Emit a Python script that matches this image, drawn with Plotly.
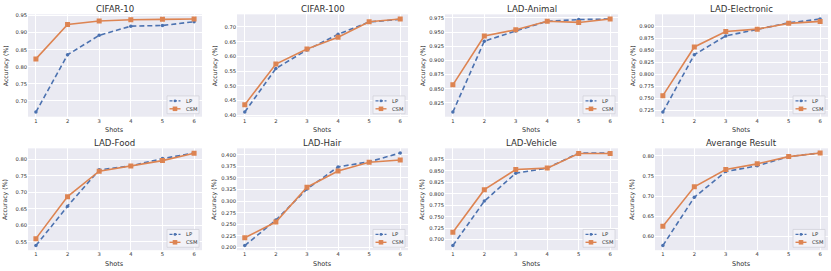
import plotly.graph_objects as go

shots = [1, 2, 3, 4, 5, 6]

titles = ["CIFAR-10", "CIFAR-100", "LAD-Animal", "LAD-Electronic",
          "LAD-Food", "LAD-Hair", "LAD-Vehicle", "Averange Result"]

lp_cifar10 = [0.667, 0.835, 0.892, 0.919, 0.921, 0.932]
csm_cifar10 = [0.823, 0.924, 0.934, 0.938, 0.939, 0.940]
lp_cifar100 = [0.411, 0.559, 0.622, 0.675, 0.717, 0.726]
csm_cifar100 = [0.436, 0.574, 0.625, 0.665, 0.718, 0.727]
lp_animal = [0.809, 0.934, 0.952, 0.969, 0.972, 0.973]
csm_animal = [0.857, 0.943, 0.954, 0.969, 0.967, 0.973]
lp_electronic = [0.722, 0.841, 0.880, 0.894, 0.907, 0.915]
csm_electronic = [0.756, 0.857, 0.889, 0.894, 0.906, 0.910]
lp_food = [0.539, 0.658, 0.768, 0.780, 0.802, 0.819]
csm_food = [0.560, 0.687, 0.764, 0.780, 0.796, 0.818]
lp_hair = [0.204, 0.259, 0.326, 0.374, 0.385, 0.404]
csm_hair = [0.221, 0.255, 0.330, 0.365, 0.384, 0.389]
lp_vehicle = [0.687, 0.784, 0.845, 0.856, 0.889, 0.889]
csm_vehicle = [0.716, 0.809, 0.853, 0.856, 0.888, 0.888]
lp_avg = [0.577, 0.697, 0.761, 0.775, 0.798, 0.807]
csm_avg = [0.625, 0.723, 0.766, 0.780, 0.798, 0.807]

lp_all = [lp_cifar10, lp_cifar100, lp_animal, lp_electronic,
          lp_food, lp_hair, lp_vehicle, lp_avg]
csm_all = [csm_cifar10, csm_cifar100, csm_animal, csm_electronic,
           csm_food, csm_hair, csm_vehicle, csm_avg]

series_names = ["LP", "CSM"]

y_dtick = [0.05, 0.05, 0.025, 0.025, 0.05, 0.025, 0.025, 0.05]
y_fmt = [".2f", ".2f", ".3f", ".3f", ".2f", ".3f", ".3f", ".2f"]

W, H = 831, 271
lefts = [28, 237, 445, 655]
rights = [202, 408, 618, 828]
tops = [12.5, 148]
bottoms = [116, 251]

BLUE = "#4C72B0"
ORANGE = "#DD8452"
FONT = "DejaVu Sans"
TXT = "#303030"


def px(xp):
    return xp / W


def py(yp):
    return 1 - yp / H


fig = go.Figure()
annotations = []
shapes = []
layout = {}

for i in range(8):
    r, c = divmod(i, 4)
    n = i + 1
    xa = "x" if n == 1 else f"x{n}"
    ya = "y" if n == 1 else f"y{n}"
    fig.add_trace(go.Scatter(
        x=shots, y=lp_all[i], name=series_names[0], mode="lines+markers",
        line=dict(color=BLUE, width=1.6, dash="5px,3px"),
        marker=dict(symbol="circle", size=3.5, color=BLUE),
        xaxis=xa, yaxis=ya, showlegend=False))
    fig.add_trace(go.Scatter(
        x=shots, y=csm_all[i], name=series_names[1], mode="lines+markers",
        line=dict(color=ORANGE, width=1.6),
        marker=dict(symbol="square", size=5, color=ORANGE),
        xaxis=xa, yaxis=ya, showlegend=False))

    vals = lp_all[i] + csm_all[i]
    lo, hi = min(vals), max(vals)
    pad = (hi - lo) * 0.05
    L, R, T, B = lefts[c], rights[c], tops[r], bottoms[r]
    kx = "xaxis" if n == 1 else f"xaxis{n}"
    ky = "yaxis" if n == 1 else f"yaxis{n}"
    layout[kx] = dict(domain=[px(L), px(R)], anchor=ya, range=[0.75, 6.25],
                      tickmode="array", tickvals=shots,
                      showgrid=True, gridcolor="white", gridwidth=0.8,
                      zeroline=False, showline=False, ticks="",
                      tickfont=dict(size=5.2, color=TXT), fixedrange=True)
    layout[ky] = dict(domain=[py(B), py(T)], anchor=xa, range=[lo - pad, hi + pad],
                      dtick=y_dtick[i], tick0=0, tickformat=y_fmt[i],
                      showgrid=True, gridcolor="white", gridwidth=0.8,
                      zeroline=False, showline=False, ticks="",
                      tickfont=dict(size=5.2, color=TXT), fixedrange=True)

    # legend box (bottom right, inside the plot area)
    lx0, lx1 = R - 35, R - 3
    ly0, ly1 = B - 21, B - 3
    shapes.append(dict(type="rect", xref="paper", yref="paper",
                       x0=px(lx0), x1=px(lx1), y0=py(ly1), y1=py(ly0),
                       fillcolor="rgba(243,243,248,0.9)",
                       line=dict(color="#D3D3DB", width=0.8), layer="above"))
    rows = [(ly0 + 5, BLUE, "dash", "circle", series_names[0]),
            (ly0 + 13, ORANGE, "solid", "square", series_names[1])]
    for yy, col, dash, sym, name in rows:
        sx0, sx1 = lx0 + 2.5, lx0 + 13.5
        shapes.append(dict(type="line", xref="paper", yref="paper",
                           x0=px(sx0), x1=px(sx1), y0=py(yy), y1=py(yy),
                           line=dict(color=col, width=1.4,
                                     dash="3px,1.5px" if dash == "dash" else "solid"),
                           layer="above"))
        cx = (sx0 + sx1) / 2
        s = 1.4 if sym == "circle" else 2.3
        shapes.append(dict(type="circle" if sym == "circle" else "rect",
                           xref="paper", yref="paper",
                           x0=px(cx - s), x1=px(cx + s), y0=py(yy + s), y1=py(yy - s),
                           fillcolor=col, line=dict(color=col, width=0),
                           layer="above"))
        annotations.append(dict(text=name, x=px(sx1 + 3), y=py(yy),
                                xref="paper", yref="paper", showarrow=False,
                                font=dict(size=5.2, color=TXT),
                                xanchor="left", yanchor="middle"))

    annotations.append(dict(text=titles[i], x=px((L + R) / 2), y=py(T - 5.5),
                            xref="paper", yref="paper", showarrow=False,
                            font=dict(size=8.6, color=TXT, weight="normal"),
                            xanchor="center", yanchor="middle"))
    annotations.append(dict(text="Shots", x=px((L + R) / 2), y=py(B + 13.5),
                            xref="paper", yref="paper", showarrow=False,
                            font=dict(size=6.5, color=TXT, weight="normal"),
                            xanchor="center", yanchor="middle"))
    annotations.append(dict(text="Accuracy (%)", x=px(L - 22.3),
                            y=py((T + B) / 2), xref="paper", yref="paper",
                            showarrow=False, textangle=-90,
                            font=dict(size=6.2, color=TXT, weight="normal"),
                            xanchor="center", yanchor="middle"))

fig.update_layout(**layout)
fig.update_layout(
    width=W, height=H, margin=dict(l=0, r=0, t=0, b=0, pad=0),
    paper_bgcolor="white", plot_bgcolor="#EAEAF2",
    font=dict(family=FONT, color=TXT),
    annotations=annotations, shapes=shapes, showlegend=False,
)

fig.write_html("out.html", config={"displayModeBar": False},
               post_script="document.body.style.margin='0px';")
